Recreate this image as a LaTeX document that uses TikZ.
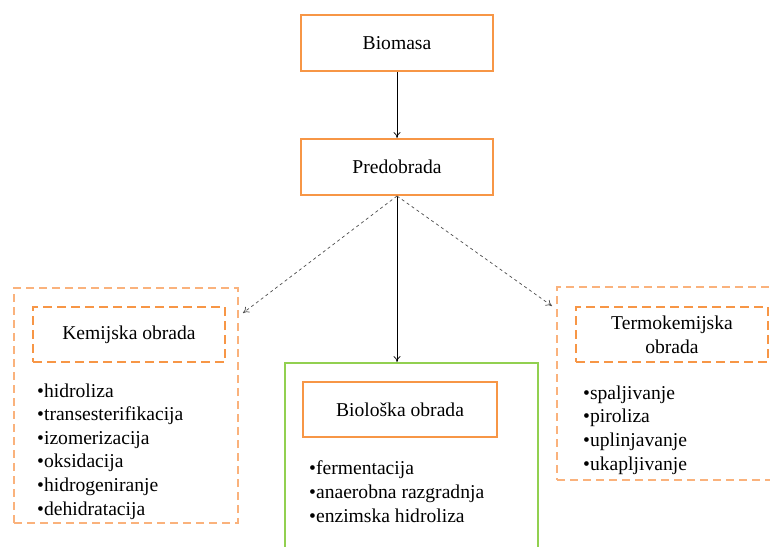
\documentclass[tikz,border=0pt]{standalone}
\usepackage{fontspec}
\setmainfont{Liberation Serif}
\usepackage{xcolor}
\usetikzlibrary{arrows.meta, positioning}

\definecolor{boxorange}{HTML}{F79646}
\definecolor{paleorange}{HTML}{FAB27C}
\definecolor{boxgreen}{HTML}{92D050}

\begin{document}
\begin{tikzpicture}[
		x=1pt, y=-1pt,
		every node/.style={font=\fontsize{19.6}{23.6}\selectfont},
		stage/.style={draw=boxorange, line width=2pt, minimum width=192pt, minimum height=56pt, inner sep=0pt},
		method/.style={draw=boxorange, line width=2pt, dash pattern=on 9pt off 5pt, minimum width=192pt, minimum height=55pt, inner sep=0pt, align=center},
		group/.style={draw=paleorange, line width=1.8pt, dash pattern=on 8pt off 5pt, inner sep=0pt},
		biogroup/.style={draw=boxgreen, line width=2pt, inner sep=0pt},
		items/.style={align=left, anchor=base west, inner sep=0pt},
		flow/.style={-{To[length=6pt, width=7pt]}, line width=0.7pt},
		branch/.style={flow, dashed, draw=black!70}
		]
	
	\useasboundingbox (0,0) rectangle (770,546);
	\clip (0,0) rectangle (770,546);
	
	% Main chain
	\node[stage] (biomasa) at (397,43) {Biomasa};
	\node[stage] (predobrada) at (397,167) {Predobrada};
	
	% Chemical route (base = last line)
	\node[group, minimum width=224pt, minimum height=235pt] (kemgrp) at (126,405.5) {};
	\node[method] (kem) at (129,334.5) {Kemijska obrada};
	\node[items] (kemlist) at (37,515) {%
		•hidroliza\\
		•transesterifikacija\\
		•izomerizacija\\
		•oksidacija\\
		•hidrogeniranje\\
		•dehidratacija};
	
	% Biological route
	\node[biogroup, minimum width=253pt, minimum height=200pt, anchor=north] (biogrp) at (411.5,362) {};
	\node[stage, minimum width=194pt, minimum height=55pt] (bio) at (400,409.5) {Biološka obrada};
	\node[items] (biolist) at (309,522) {%
		•fermentacija\\
		•anaerobna razgradnja\\
		•enzimska hidroliza};
	
	% Thermochemical route
	\node[group, minimum width=224pt, minimum height=193pt] (termgrp) at (669,383.5) {};
	\node[method] (term) at (672,334.5) {Termokemijska\\obrada};
	\node[items] (termlist) at (583,470) {%
		•spaljivanje\\
		•piroliza\\
		•uplinjavanje\\
		•ukapljivanje};
	
	% Connectors
	\coordinate (kemtip) at (243,313);
	\coordinate (termtip) at (552,306);
	\draw[flow] (biomasa) -- (predobrada);
	\draw[flow] (predobrada.south) -- (predobrada.south |- biogrp.north);
	\draw[branch] (predobrada.south) -- (kemtip);
	\draw[branch] (predobrada.south) -- (termtip);
	
\end{tikzpicture}
\end{document}
